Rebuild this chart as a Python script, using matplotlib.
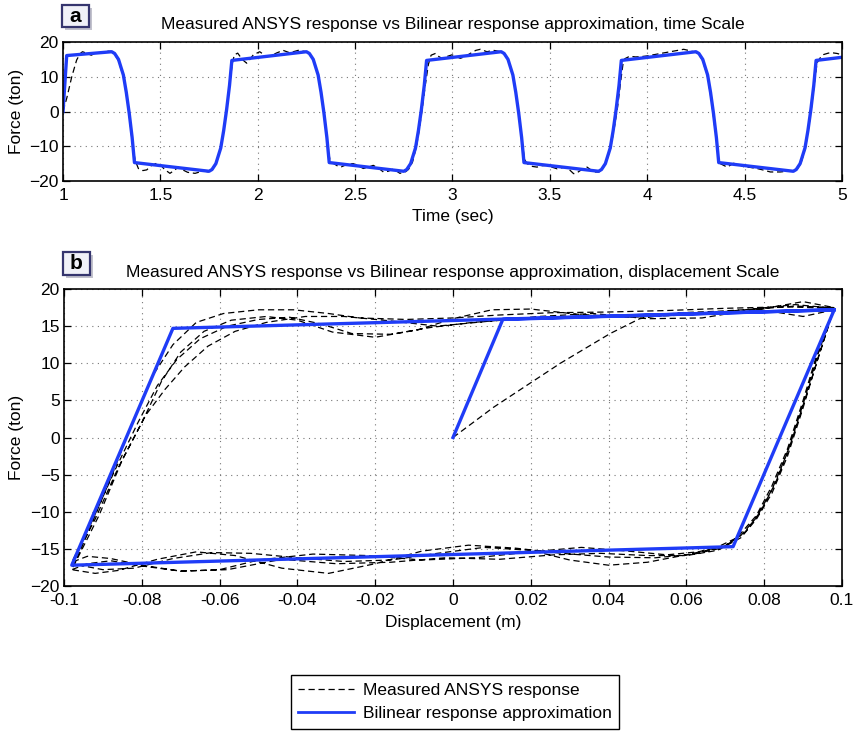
import numpy as np
import matplotlib
matplotlib.use('Agg')
import matplotlib.pyplot as plt
from matplotlib.patches import Rectangle
from matplotlib.lines import Line2D

plt.rcParams['font.family'] = ['Liberation Sans', 'DejaVu Sans']

W, H = 854, 732
BLUE = '#1f3cf7'

# ---- panel a: force vs time ----
BILIN_T = [1.000, 1.019, 1.250, 1.265, 1.285, 1.310, 1.325, 1.340, 1.355, 1.367,
           1.750, 1.765, 1.785, 1.810, 1.825, 1.840, 1.855, 1.867,
           2.250, 2.265, 2.285, 2.310, 2.325, 2.340, 2.355, 2.367,
           2.750, 2.765, 2.785, 2.810, 2.825, 2.840, 2.855, 2.867,
           3.250, 3.265, 3.285, 3.310, 3.325, 3.340, 3.355, 3.367,
           3.750, 3.765, 3.785, 3.810, 3.825, 3.840, 3.855, 3.867,
           4.250, 4.265, 4.285, 4.310, 4.325, 4.340, 4.355, 4.367,
           4.750, 4.765, 4.785, 4.810, 4.825, 4.840, 4.855, 4.867, 5.000]
BILIN_F = [0.0, 16.1, 17.2, 16.7, 15.0, 10.5, 5.5, -0.5, -7.5, -14.7,
           -17.2, -16.7, -15.0, -10.5, -5.5, 0.5, 7.5, 14.7,
           17.2, 16.7, 15.0, 10.5, 5.5, -0.5, -7.5, -14.7,
           -17.2, -16.7, -15.0, -10.5, -5.5, 0.5, 7.5, 14.7,
           17.2, 16.7, 15.0, 10.5, 5.5, -0.5, -7.5, -14.7,
           -17.2, -16.7, -15.0, -10.5, -5.5, 0.5, 7.5, 14.7,
           17.2, 16.7, 15.0, 10.5, 5.5, -0.5, -7.5, -14.7,
           -17.2, -16.7, -15.0, -10.5, -5.5, 0.5, 7.5, 14.7, 15.6]

MEAS_T = [1.000, 1.020, 1.045, 1.070, 1.087, 1.100, 1.120, 1.145, 1.170, 1.195, 1.220, 1.245,
          1.265, 1.285, 1.310, 1.325, 1.340, 1.355, 1.370, 1.387,
          1.410, 1.430, 1.455, 1.481, 1.500, 1.520, 1.549, 1.570, 1.592, 1.615, 1.640, 1.678, 1.720, 1.750,
          1.765, 1.788, 1.812, 1.827, 1.842, 1.857, 1.870,
          1.880, 1.897, 1.920, 1.943, 1.960, 1.977, 2.010, 2.046, 2.070, 2.095, 2.130, 2.164, 2.190, 2.208, 2.250,
          2.268, 2.287, 2.312, 2.327, 2.342, 2.357, 2.370, 2.388,
          2.410, 2.430, 2.460, 2.490, 2.515, 2.542, 2.568, 2.593, 2.620, 2.645, 2.670, 2.696, 2.730, 2.760,
          2.775, 2.795, 2.815, 2.830, 2.845, 2.860, 2.876,
          2.890, 2.912, 2.930, 2.946, 2.970, 2.997, 3.020, 3.040, 3.065, 3.091, 3.120, 3.143, 3.177, 3.210, 3.250,
          3.268, 3.287, 3.312, 3.327, 3.342, 3.357, 3.370, 3.383,
          3.410, 3.434, 3.460, 3.485, 3.510, 3.537, 3.560, 3.588, 3.605, 3.622, 3.640, 3.656, 3.691, 3.725, 3.752,
          3.770, 3.790, 3.812, 3.830, 3.847, 3.862, 3.875,
          3.885, 3.910, 3.940, 3.970, 4.000, 4.030, 4.067, 4.100, 4.118, 4.150, 4.187, 4.210, 4.238,
          4.258, 4.282, 4.308, 4.323, 4.338, 4.353, 4.367, 4.375,
          4.410, 4.444, 4.470, 4.495, 4.530, 4.563, 4.600, 4.632, 4.683, 4.735, 4.752,
          4.770, 4.790, 4.812, 4.828, 4.843, 4.858, 4.872,
          4.890, 4.906, 4.930, 4.950, 4.975, 5.000]
MEAS_F = [0.0, 4.0, 10.0, 14.8, 16.6, 17.2, 16.8, 16.2, 16.9, 17.0, 17.4, 17.3,
          16.5, 14.6, 10.0, 5.0, -1.0, -8.5, -14.0, -16.4,
          -17.0, -16.8, -15.5, -14.9, -15.3, -16.6, -17.8, -17.0, -16.0, -16.8, -17.5, -17.8, -17.1, -17.4,
          -16.9, -14.8, -10.0, -5.0, 1.0, 8.5, 14.0,
          16.3, 16.8, 15.0, 13.9, 15.0, 16.3, 17.2, 15.8, 16.0, 16.8, 17.6, 16.9, 17.3, 17.6, 17.2,
          16.5, 14.6, 10.0, 5.0, -1.0, -8.5, -13.8, -14.9,
          -15.7, -15.9, -15.2, -15.0, -15.6, -16.4, -16.0, -15.5, -16.3, -17.4, -17.2, -16.5, -17.8, -17.3,
          -16.6, -14.5, -10.0, -5.0, 1.0, 7.5, 13.5,
          16.2, 16.7, 15.8, 15.3, 15.8, 16.3, 15.8, 15.3, 15.8, 16.7, 17.6, 17.9, 17.2, 17.6, 17.2,
          16.5, 14.6, 10.0, 5.0, -1.0, -8.5, -13.8, -15.0,
          -15.8, -16.0, -15.6, -15.5, -16.0, -16.5, -16.2, -16.0, -17.0, -17.9, -17.6, -17.0, -16.0, -17.4, -17.4,
          -16.5, -14.5, -10.5, -5.0, 1.0, 8.0, 13.5,
          15.2, 15.9, 15.7, 15.8, 16.0, 16.3, 16.7, 17.0, 17.2, 17.5, 17.9, 17.6, 17.2,
          16.8, 15.0, 10.5, 5.5, -0.5, -7.5, -14.0, -15.0,
          -16.0, -14.9, -15.3, -15.9, -16.1, -16.4, -16.9, -17.4, -17.4, -17.1, -17.2,
          -16.6, -14.8, -10.5, -5.0, 1.0, 8.0, 14.0,
          15.6, 16.4, 16.8, 16.9, 16.7, 16.3]

# ---- panel b: force vs displacement ----
BILIN_D = [0.0, 0.0128, 0.098, 0.072, -0.098, -0.072, 0.098]
BILIN_FD = [0.0, 15.9, 17.2, -14.7, -17.2, 14.7, 17.2]

INIT_D = [0.000, 0.0105, 0.0276, 0.0404, 0.048, 0.058, 0.068, 0.078, 0.088, 0.098]
INIT_F = [0.0, 4.1, 10.0, 14.0, 16.0, 16.8, 17.0, 17.3, 17.7, 17.5]

L1_D = [0.098, 0.094, 0.090, 0.086, 0.082, 0.078, 0.074, 0.069, 0.062, 0.052, 0.040, 0.028, 0.016,
        0.004, -0.008, -0.020, -0.032, -0.044, -0.056, -0.066, -0.076, -0.086, -0.092, -0.098]
L1_F = [17.5, 11.5, 4.5, -2.0, -7.0, -10.8, -13.2, -14.9, -15.7, -16.2, -16.1, -15.6, -14.9,
        -14.5, -15.3, -17.0, -18.3, -17.6, -15.9, -15.4, -16.4, -17.9, -18.3, -17.8]
U1_D = [-0.098, -0.094, -0.088, -0.082, -0.077, -0.072, -0.066, -0.059, -0.050, -0.041, -0.032,
        -0.024, -0.012, 0.000, 0.012, 0.025, 0.040, 0.055, 0.070, 0.085, 0.098]
U1_F = [-17.8, -13.0, -5.5, 2.5, 8.5, 12.5, 15.5, 16.7, 17.2, 17.2, 16.7,
        16.1, 15.9, 16.1, 16.5, 16.8, 16.9, 17.1, 17.4, 17.6, 17.4]
L2_D = [0.098, 0.094, 0.090, 0.086, 0.082, 0.078, 0.073, 0.067, 0.060, 0.050, 0.040, 0.030, 0.020,
        0.008, -0.004, -0.016, -0.028, -0.040, -0.052, -0.062, -0.072, -0.082, -0.090, -0.098]
L2_F = [17.4, 12.0, 5.0, -1.5, -6.5, -10.5, -13.5, -15.0, -15.8, -16.8, -17.2, -16.5, -15.2,
        -14.8, -15.6, -16.5, -16.7, -16.2, -15.6, -15.5, -16.3, -17.6, -17.8, -17.0]
U2_D = [-0.098, -0.092, -0.086, -0.080, -0.075, -0.070, -0.064, -0.057, -0.048, -0.040, -0.031,
        -0.020, -0.009, 0.000, 0.010, 0.020, 0.032, 0.045, 0.060, 0.075, 0.088, 0.098]
U2_F = [-17.0, -11.0, -4.0, 2.0, 7.5, 11.5, 14.3, 15.8, 16.3, 15.8, 14.2,
        13.5, 14.5, 16.0, 17.2, 17.3, 16.6, 16.2, 16.5, 17.2, 17.9, 17.4]
L3_D = [0.098, 0.095, 0.091, 0.087, 0.083, 0.079, 0.075, 0.070, 0.063, 0.055, 0.045, 0.033, 0.020,
        0.006, -0.008, -0.022, -0.036, -0.050, -0.060, -0.070, -0.080, -0.088, -0.094, -0.098]
L3_F = [17.4, 12.5, 6.0, -0.5, -6.0, -10.0, -12.8, -14.6, -15.4, -15.8, -15.3, -14.8, -15.4,
        -16.2, -16.5, -15.9, -15.7, -16.5, -17.8, -18.0, -17.2, -16.3, -16.0, -16.8]
U3_D = [-0.098, -0.093, -0.087, -0.081, -0.076, -0.071, -0.065, -0.058, -0.050, -0.042, -0.034,
        -0.026, -0.016, -0.006, 0.005, 0.018, 0.032, 0.048, 0.062, 0.076, 0.090, 0.098]
U3_F = [-16.8, -11.5, -4.5, 2.0, 7.0, 10.5, 13.3, 15.0, 15.9, 16.2, 15.3,
        14.0, 13.9, 14.8, 15.5, 16.0, 16.3, 16.3, 16.6, 17.0, 18.3, 17.5]
L4_D = [0.098, 0.094, 0.090, 0.086, 0.082, 0.078, 0.074, 0.068, 0.060, 0.050, 0.038, 0.026, 0.012,
        -0.002, -0.016, -0.030, -0.044, -0.058, -0.070, -0.080, -0.088, -0.094, -0.098]
L4_F = [17.5, 11.0, 4.0, -2.5, -7.5, -11.0, -13.5, -15.2, -15.9, -15.9, -15.6, -15.8, -16.4,
        -16.2, -16.8, -17.0, -16.4, -17.8, -18.0, -17.3, -16.6, -17.0, -17.8]
U4_D = [-0.098, -0.091, -0.085, -0.079, -0.074, -0.069, -0.063, -0.056, -0.048, -0.038, -0.028,
        -0.016, -0.004, 0.008, 0.022, 0.036, 0.050, 0.064, 0.078, 0.090, 0.098]
U4_F = [-17.8, -10.5, -3.0, 3.0, 6.5, 9.5, 12.3, 14.3, 15.5, 16.3, 16.3,
        15.7, 15.0, 15.6, 16.3, 16.7, 16.0, 16.1, 17.3, 16.3, 17.2]

TITLE_A = 'Measured ANSYS response vs Bilinear response approximation, time Scale'
TITLE_B = 'Measured ANSYS response vs Bilinear response approximation, displacement Scale'
LEG_LABELS = ['Measured ANSYS response', 'Bilinear response approximation']

DASH = (0, (5, 3))
FS = 12.5


def style(ax):
    ax.grid(True, color='#777777', linestyle=(0, (1, 4)), linewidth=0.8)
    ax.tick_params(direction='in', top=True, right=True, length=5, width=0.9,
                   labelsize=FS, colors='black')
    ax.tick_params(axis='x', pad=5)
    ax.tick_params(axis='y', pad=3)
    for sp in ax.spines.values():
        sp.set_linewidth(1.2)


def tag(fig, x0, y0, w, h, letter):
    sh = Rectangle(((x0 + 3) / W, 1 - (y0 + h + 3) / H), w / W, h / H,
                   transform=fig.transFigure, fc='#a8a8b8', ec='none', alpha=0.7)
    box = Rectangle((x0 / W, 1 - (y0 + h) / H), w / W, h / H,
                    transform=fig.transFigure, fc='#f0f1f8', ec='#35356e', lw=1.6)
    fig.patches.extend([sh, box])
    fig.text((x0 + w / 2) / W, 1 - (y0 + h / 2) / H, letter, ha='center', va='center',
             fontsize=15, fontweight='bold')


fig = plt.figure(figsize=(W / 100, H / 100), dpi=100)

ax1 = fig.add_axes([63 / W, 1 - 181 / H, 779 / W, 139 / H])
ax1.plot(MEAS_T, MEAS_F, color='black', lw=0.9, linestyle=DASH)
ax1.plot(BILIN_T, BILIN_F, color=BLUE, lw=2.4)
ax1.set_xlim(1, 5)
ax1.set_ylim(-20, 20)
ax1.set_xticks([1, 1.5, 2, 2.5, 3, 3.5, 4, 4.5, 5])
ax1.set_xticklabels(['1', '1.5', '2', '2.5', '3', '3.5', '4', '4.5', '5'])
ax1.set_yticks([-20, -10, 0, 10, 20])
style(ax1)
ax1.set_title(TITLE_A, fontsize=FS, pad=9)
ax1.set_xlabel('Time (sec)', fontsize=FS)
ax1.set_ylabel('Force (ton)', fontsize=FS)
ax1.xaxis.set_label_coords(0.5, -0.2)
ax1.yaxis.set_label_coords(-0.05, 0.5)

ax2 = fig.add_axes([64 / W, 1 - 586 / H, 778 / W, 297 / H])
meas_d = np.concatenate([INIT_D, L1_D, U1_D, L2_D, U2_D, L3_D, U3_D, L4_D, U4_D])
meas_f = np.concatenate([INIT_F, L1_F, U1_F, L2_F, U2_F, L3_F, U3_F, L4_F, U4_F])
ax2.plot(meas_d, meas_f, color='black', lw=0.9, linestyle=DASH)
ax2.plot(BILIN_D, BILIN_FD, color=BLUE, lw=2.4)
ax2.set_xlim(-0.1, 0.1)
ax2.set_ylim(-20, 20)
xt = np.round(np.arange(-0.1, 0.1001, 0.02), 2)
ax2.set_xticks(xt)
ax2.set_xticklabels(['-0.1', '-0.08', '-0.06', '-0.04', '-0.02', '0',
                     '0.02', '0.04', '0.06', '0.08', '0.1'])
ax2.set_yticks(np.arange(-20, 21, 5))
style(ax2)
ax2.set_title(TITLE_B, fontsize=FS, pad=9)
ax2.set_xlabel('Displacement (m)', fontsize=FS)
ax2.set_ylabel('Force (ton)', fontsize=FS)
ax2.xaxis.set_label_coords(0.5, -0.098)
ax2.yaxis.set_label_coords(-0.051, 0.5)

tag(fig, 62, 5, 27, 22, 'a')
tag(fig, 63, 252, 27, 23, 'b')

handles = [Line2D([], [], color='black', lw=0.9, linestyle=DASH),
           Line2D([], [], color=BLUE, lw=2.0)]
leg = fig.legend(handles, LEG_LABELS, loc='lower center', bbox_to_anchor=(455 / W, 3 / H),
                 fontsize=FS, frameon=True, fancybox=False, edgecolor='black',
                 framealpha=1, handlelength=3.2, handletextpad=0.5, borderpad=0.45,
                 labelspacing=0.45, borderaxespad=0)
leg.get_frame().set_linewidth(1.0)

fig.savefig('out.png', dpi=100)
